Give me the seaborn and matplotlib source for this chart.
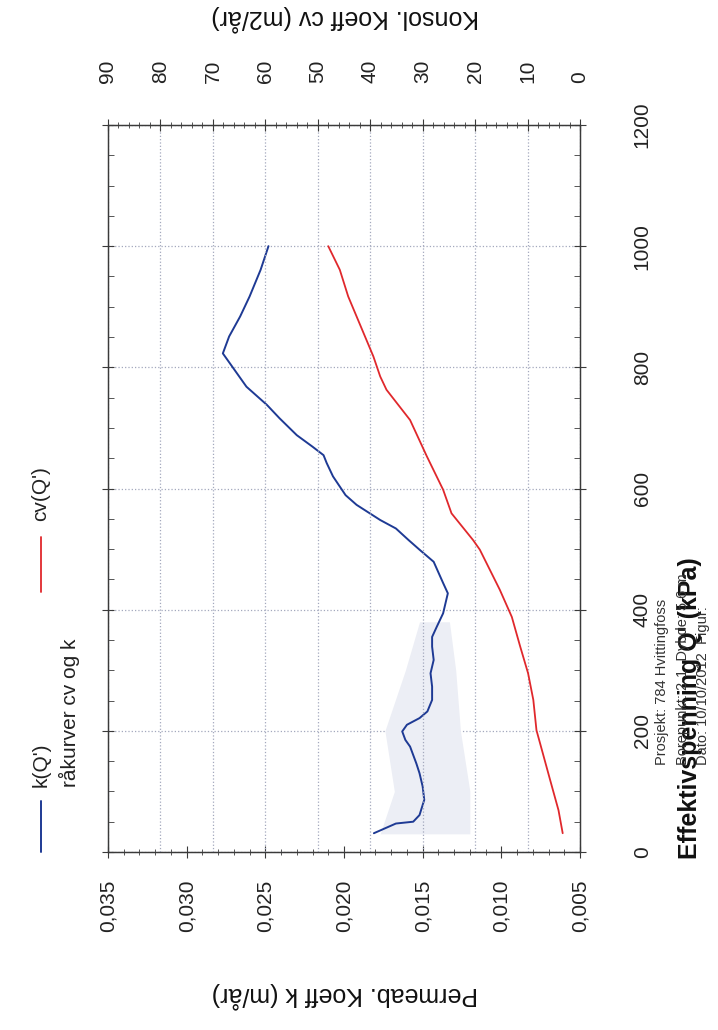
import numpy as np
import pandas as pd
import matplotlib
matplotlib.use("Agg")
import matplotlib.pyplot as plt
import seaborn as sns
from matplotlib.lines import Line2D
from matplotlib.ticker import MultipleLocator

# ---------------- data ----------------
q_k = [31, 47, 50, 61, 86, 108, 130, 146, 174, 185, 199, 210, 221, 232, 251, 273,
       295, 317, 339, 355, 372, 394, 416, 427, 444, 479, 499, 515, 534, 548, 573,
       589, 620, 642, 655, 669, 688, 716, 738, 768, 823, 851, 884, 917, 961, 1000]
k_vals = [0.0181, 0.0167, 0.0156, 0.0152, 0.0149, 0.0150, 0.0152, 0.0154, 0.0158,
          0.0161, 0.0163, 0.0160, 0.0152, 0.0147, 0.0144, 0.0144, 0.0145, 0.0143,
          0.0144, 0.0144, 0.0141, 0.0137, 0.0135, 0.0134, 0.0137, 0.0143, 0.0152,
          0.0159, 0.0167, 0.0177, 0.0192, 0.0199, 0.0207, 0.0211, 0.0213, 0.0220,
          0.0230, 0.0241, 0.0249, 0.0262, 0.0277, 0.0273, 0.0266, 0.0260, 0.0253,
          0.0248]

q_cv = [31, 69, 119, 179, 201, 251, 295, 339, 388, 433, 466, 499, 515, 559, 598,
        653, 713, 763, 785, 818, 917, 961, 1000]
cv_vals = [3.3, 4.1, 5.7, 7.6, 8.3, 8.9, 9.9, 11.4, 13.0, 15.3, 17.2, 19.1, 20.4,
           24.5, 26.1, 29.2, 32.4, 36.9, 38.1, 39.4, 44.2, 45.8, 48.0]

# faint raw-curve band ("råkurver cv og k")
raw_q = [30, 100, 200, 300, 380]
raw_k_lo = [0.0120, 0.0120, 0.0126, 0.0129, 0.0133]
raw_k_hi = [0.0177, 0.0168, 0.0174, 0.0161, 0.0152]

k_ticks = [0.005, 0.010, 0.015, 0.020, 0.025, 0.030, 0.035]
k_tick_labels = ["0,005", "0,010", "0,015", "0,020", "0,025", "0,030", "0,035"]
cv_ticks = [0, 10, 20, 30, 40, 50, 60, 70, 80, 90]
q_ticks = [0, 200, 400, 600, 800, 1000, 1200]

legend_labels = ["k(Q')", "råkurver cv og k", "cv(Q')"]
info_lines = ["Prosjekt: 784 Hvittingfoss",
              "Borepunkt: 2-1  Dybde: 5.6 m",
              "Dato: 10/10/2012  Figur:"]

BLUE = "#1e3a94"
RED = "#e0282c"
GRID = "#a3a8bd"
SPINE = "#3a3a3a"

# ---------------- style ----------------
sns.set_theme(style="white")
plt.rcParams["font.family"] = ["Liberation Sans", "DejaVu Sans"]

W, H = 718, 1030
L, R, T, B = 108, 580, 125, 852

fig = plt.figure(figsize=(W / 100, H / 100), dpi=100)
fig.patch.set_facecolor("white")
ax = fig.add_axes([L / W, 1 - B / H, (R - L) / W, (B - T) / H])

# raw band
ax.fill_betweenx(raw_q, raw_k_lo, raw_k_hi, color="#eceef5", lw=0, zorder=1)

df_k = pd.DataFrame({"Q": q_k, "k": k_vals})
sns.lineplot(data=df_k, x="k", y="Q", orient="y", sort=False, estimator=None,
             color=BLUE, lw=1.4, ax=ax, zorder=3)
ax.set_xlim(0.035, 0.005)
ax.set_ylim(0, 1200)
ax.set_xlabel("")
ax.set_ylabel("")

ax.set_xticks(k_ticks)
ax.set_xticklabels(k_tick_labels, rotation=90, fontsize=15, color="#222222")
ax.xaxis.set_minor_locator(MultipleLocator(0.001))
ax.tick_params(axis="x", which="major", direction="inout", length=8, width=0.8,
               pad=16, color=SPINE, bottom=True, top=False)
ax.tick_params(axis="x", which="minor", direction="inout", length=5, width=0.6,
               color=SPINE, bottom=True, top=False)

ax.set_yticks(q_ticks)
ax.set_yticklabels([str(v) for v in q_ticks], rotation=90, fontsize=15,
                   color="#222222", va="center")
ax.yaxis.set_minor_locator(MultipleLocator(50))
ax.tick_params(axis="y", which="major", direction="inout", length=8, width=0.8,
               pad=34, color=SPINE, left=True, right=True,
               labelleft=False, labelright=True)
ax.tick_params(axis="y", which="minor", direction="in", length=4, width=0.6,
               color=SPINE, left=True, right=True)
ax.grid(True, axis="y", which="major", ls=":", color=GRID, lw=0.9)
ax.grid(False, axis="x")
for s in ax.spines.values():
    s.set_color(SPINE)
    s.set_linewidth(0.9)

# cv axis on top
ax2 = ax.twiny()
df_cv = pd.DataFrame({"Q": q_cv, "cv": cv_vals})
sns.lineplot(data=df_cv, x="cv", y="Q", orient="y", sort=False, estimator=None,
             color=RED, lw=1.3, ax=ax2, zorder=3)
ax2.set_xlim(90, 0)
ax2.set_ylim(0, 1200)
ax2.set_xlabel("")
ax2.set_ylabel("")
ax2.set_xticks(cv_ticks)
ax2.set_xticklabels([str(v) for v in cv_ticks], rotation=90, fontsize=15,
                    color="#222222")
ax2.xaxis.set_minor_locator(MultipleLocator(2))
ax2.tick_params(axis="x", which="major", direction="inout", length=8, width=0.8,
                pad=26, color=SPINE, top=True, bottom=False)
ax2.tick_params(axis="x", which="minor", direction="inout", length=5, width=0.6,
                color=SPINE, top=True, bottom=False)
ax2.grid(True, axis="x", which="major", ls=":", color=GRID, lw=0.9)
ax2.grid(False, axis="y")
for s in ax2.spines.values():
    s.set_color(SPINE)
    s.set_linewidth(0.9)

# axis titles (rotated layout)
fig.text(345 / W, 1 - 995 / H, "Permeab. Koeff k (m/år)", rotation=180,
         ha="center", va="center", fontsize=18, color="#111111")
fig.text(345 / W, 1 - 18 / H, "Konsol. Koeff cv (m2/år)", rotation=180,
         ha="center", va="center", fontsize=18, color="#111111")
fig.text(690 / W, 1 - 708 / H, "Effektivspenning Q' (kPa)", rotation=90,
         ha="center", va="center", fontsize=18, fontweight="bold", color="#111111")

# project info
for xp, line in zip([662, 683, 703], info_lines):
    fig.text(xp / W, 1 - 765 / H, line, rotation=90, ha="center", va="bottom",
             fontsize=10.5, color="#333333")

# manual legend (rotated)
fig.add_artist(Line2D([41 / W, 41 / W], [1 - 852 / H, 1 - 801 / H], color=BLUE,
                      lw=1.4, transform=fig.transFigure))
fig.text(41 / W, 1 - 787 / H, legend_labels[0], rotation=90, ha="center",
         va="bottom", fontsize=15, color="#222222")
fig.text(69 / W, 1 - 787 / H, legend_labels[1], rotation=90, ha="center",
         va="bottom", fontsize=15, color="#222222")
fig.add_artist(Line2D([41 / W, 41 / W], [1 - 592 / H, 1 - 537 / H], color=RED,
                      lw=1.3, transform=fig.transFigure))
fig.text(41 / W, 1 - 521 / H, legend_labels[2], rotation=90, ha="center",
         va="bottom", fontsize=15, color="#222222")

fig.savefig("out.png", dpi=100, facecolor="white")
